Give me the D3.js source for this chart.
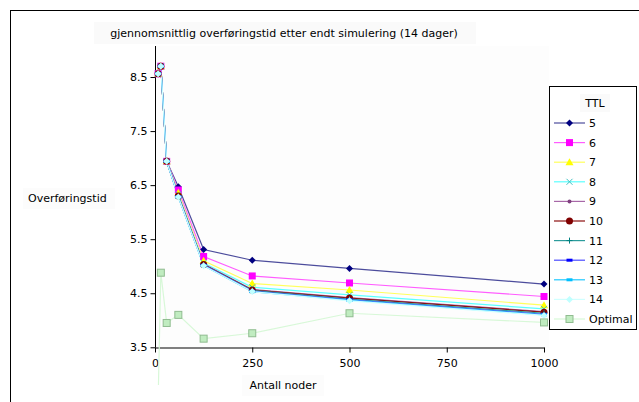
<!DOCTYPE html>
<html>
<head>
<meta charset="utf-8">
<script src="https://cdn.jsdelivr.net/npm/d3@7"></script>
<style>
  body { margin: 0; background: #fff; }
  text { font-family: "DejaVu Sans", sans-serif; font-size: 11px; fill: #000; }
</style>
</head>
<body>
<script>
// antall noder (x) og gjennomsnittlig overføringstid per TTL
const nodes = [8, 15, 30, 60, 125, 250, 500, 1000];
const ttl5  = [8.56, 8.70, 6.94, 6.47, 5.31, 5.11, 4.96, 4.67];
const ttl6  = [8.56, 8.70, 6.94, 6.41, 5.18, 4.82, 4.69, 4.44];
const ttl7  = [8.56, 8.70, 6.94, 6.36, 5.10, 4.68, 4.56, 4.28];
const ttl8  = [8.56, 8.70, 6.94, 6.33, 5.06, 4.61, 4.47, 4.21];
const ttl9  = [8.56, 8.70, 6.94, 6.31, 5.04, 4.57, 4.42, 4.16];
const ttl10 = [8.56, 8.70, 6.94, 6.30, 5.03, 4.56, 4.41, 4.15];
const ttl11 = [8.56, 8.70, 6.94, 6.29, 5.02, 4.55, 4.39, 4.13];
const ttl12 = [8.56, 8.70, 6.94, 6.29, 5.02, 4.54, 4.38, 4.11];
const ttl13 = [8.56, 8.70, 6.94, 6.28, 5.01, 4.53, 4.37, 4.10];
const ttl14 = [8.56, 8.70, 6.94, 6.28, 5.01, 4.53, 4.36, 4.09];
const optimal = [2.5, 4.88, 3.95, 4.10, 3.66, 3.76, 4.13, 3.96];

const seriesNames = ["5", "6", "7", "8", "9", "10", "11", "12", "13", "14", "Optimal"];
const seriesValues = [ttl5, ttl6, ttl7, ttl8, ttl9, ttl10, ttl11, ttl12, ttl13, ttl14, optimal];
const xTicks = [0, 250, 500, 750, 1000];
const yTicks = [3.5, 4.5, 5.5, 6.5, 7.5, 8.5];

// utseende per serie: linjefarge, markørfarge, markørtype
const styles = [
  {line: "#4c4c9c", mark: "#000080", shape: "diamond"},
  {line: "#ff5cff", mark: "#ff00ff", shape: "square"},
  {line: "#ffff5c", mark: "#ffff00", shape: "triangle"},
  {line: "#5cffff", mark: "#40c0c0", shape: "cross"},
  {line: "#a868a8", mark: "#804080", shape: "dot"},
  {line: "#8c1010", mark: "#800000", shape: "circle"},
  {line: "#2c9c9c", mark: "#008080", shape: "plus"},
  {line: "#4c4cff", mark: "#0000ff", shape: "dash"},
  {line: "#20c8ff", mark: "#00bfff", shape: "dash"},
  {line: "#d0ffff", mark: "#c0ffff", shape: "diamond"},
  {line: "#d8f8d8", mark: "#c0ecc0", shape: "opensquare"}
];

const W = 639, H = 402;
const svg = d3.select("body").append("svg").attr("width", W).attr("height", H);

// ytre ramme
svg.append("rect").attr("x", 10.5).attr("y", 10.5).attr("width", 640).attr("height", 400)
  .attr("fill", "#fff").attr("stroke", "#000");

const x = d3.scaleLinear().domain([0, 1000]).range([155, 544]);
const y = d3.scaleLinear().domain([3.5, 9.0]).range([347.3, 50]);

// plot-bakgrunn
svg.append("rect").attr("x", 155).attr("y", 46).attr("width", 394).attr("height", 302).attr("fill", "#fdfdfd");

// tittel
svg.append("rect").attr("x", 94).attr("y", 22).attr("width", 382).attr("height", 22).attr("fill", "#fafafa");
svg.append("text").attr("x", 284).attr("y", 37).attr("text-anchor", "middle")
  .text("gjennomsnittlig overføringstid etter endt simulering (14 dager)");

// aksetitler
svg.append("rect").attr("x", 23).attr("y", 188).attr("width", 92).attr("height", 21).attr("fill", "#fcfcfc");
svg.append("text").attr("x", 28).attr("y", 202).text("Overføringstid");
svg.append("rect").attr("x", 242).attr("y", 375).attr("width", 82).attr("height", 21).attr("fill", "#fcfcfc");
svg.append("text").attr("x", 283).attr("y", 389).attr("text-anchor", "middle").text("Antall noder");

// akser
const xAxis = svg.append("g").attr("transform", "translate(0,347.5)")
  .call(d3.axisBottom(x).tickValues(xTicks).tickSize(5).tickSizeOuter(0).tickFormat(d3.format("d")));
const yAxis = svg.append("g").attr("transform", "translate(155.5,0)")
  .call(d3.axisLeft(y).tickValues(yTicks).tickSize(5).tickSizeOuter(0).tickFormat(d3.format(".1f")));
[xAxis, yAxis].forEach(a => {
  a.selectAll("text").style("font-family", "DejaVu Sans").style("font-size", "11px").attr("fill", "#000");
  a.selectAll("line, path").attr("stroke", "#000");
});
xAxis.selectAll("text").attr("dy", "1.05em");
yAxis.select(".domain").attr("d", "M0,46V347.5");

// klipping
svg.append("clipPath").attr("id", "lineclip").append("rect")
  .attr("x", 150).attr("y", 40).attr("width", 400).attr("height", 345);
svg.append("clipPath").attr("id", "markclip").append("rect")
  .attr("x", 150).attr("y", 40).attr("width", 400).attr("height", 315);

function drawMarker(g, shape, cx, cy, st) {
  const s = 3.5;
  if (shape === "diamond") {
    g.append("path").attr("d", `M${cx},${cy - s}L${cx + s},${cy}L${cx},${cy + s}L${cx - s},${cy}Z`).attr("fill", st.mark);
  } else if (shape === "square") {
    g.append("rect").attr("x", cx - 3.5).attr("y", cy - 3.5).attr("width", 7).attr("height", 7).attr("fill", st.mark);
  } else if (shape === "opensquare") {
    g.append("rect").attr("x", cx - 3.5).attr("y", cy - 3.5).attr("width", 7).attr("height", 7)
      .attr("fill", st.mark).attr("stroke", "#90bc90");
  } else if (shape === "triangle") {
    g.append("path").attr("d", `M${cx},${cy - 4}L${cx + 4},${cy + 3}L${cx - 4},${cy + 3}Z`).attr("fill", st.mark);
  } else if (shape === "cross") {
    g.append("path").attr("d", `M${cx - 3},${cy - 3}L${cx + 3},${cy + 3}M${cx + 3},${cy - 3}L${cx - 3},${cy + 3}`)
      .attr("stroke", st.mark).attr("stroke-width", 1);
  } else if (shape === "plus") {
    g.append("path").attr("d", `M${cx - 3},${cy}L${cx + 3},${cy}M${cx},${cy - 3}L${cx},${cy + 3}`)
      .attr("stroke", st.mark).attr("stroke-width", 1);
  } else if (shape === "dot") {
    g.append("circle").attr("cx", cx).attr("cy", cy).attr("r", 2).attr("fill", st.mark);
  } else if (shape === "circle") {
    g.append("circle").attr("cx", cx).attr("cy", cy).attr("r", 3.5).attr("fill", st.mark);
  } else if (shape === "dash") {
    g.append("rect").attr("x", cx - 3).attr("y", cy - 1.5).attr("width", 6).attr("height", 3).attr("fill", st.mark);
  }
}

const line = d3.line().x((d, i) => x(nodes[i])).y(d => y(d));
const lineG = svg.append("g").attr("clip-path", "url(#lineclip)");
const markG = svg.append("g").attr("clip-path", "url(#markclip)");

seriesValues.forEach((vals, k) => {
  const st = styles[k];
  lineG.append("path").datum(vals).attr("d", line)
    .attr("fill", "none").attr("stroke", st.line).attr("stroke-width", 1.2);
});
seriesValues.forEach((vals, k) => {
  const st = styles[k];
  const g = markG.append("g");
  vals.forEach((v, i) => drawMarker(g, st.shape, x(nodes[i]), y(v), st));
});

// legende
const leg = svg.append("g");
leg.append("rect").attr("x", 549.5).attr("y", 86.5).attr("width", 87).attr("height", 243)
  .attr("fill", "#fff").attr("stroke", "#000");
leg.append("rect").attr("x", 580).attr("y", 94).attr("width", 30).attr("height", 18).attr("fill", "#fafafa");
leg.append("text").attr("x", 595).attr("y", 107).attr("text-anchor", "middle").text("TTL");
seriesNames.forEach((name, k) => {
  const st = styles[k];
  const ly = 123 + k * 19.6;
  leg.append("line").attr("x1", 554).attr("x2", 585).attr("y1", ly).attr("y2", ly)
    .attr("stroke", st.line).attr("stroke-width", 1.2);
  drawMarker(leg, st.shape, 569.5, ly, st);
  leg.append("text").attr("x", 589).attr("y", ly + 4).text(name);
});
</script>
</body>
</html>
